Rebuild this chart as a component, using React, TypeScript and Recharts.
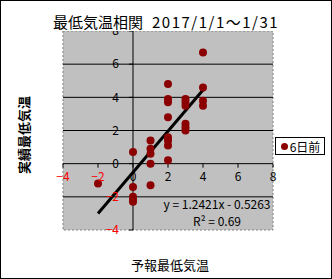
import { ScatterChart, Scatter, XAxis, YAxis, ReferenceLine, ReferenceArea, ReferenceDot } from "recharts";

// 6日前の予報最低気温 (x) と実績最低気温 (y)
const forecastTemps = [-2, 0, 0, 0, 0, 0, 1, 1, 1, 1, 1, 2, 2, 2, 2, 2, 2, 2, 2, 3, 3, 3, 3, 3, 3, 4, 4, 4, 4];
const actualTemps = [-1.2, 0.7, -1.4, -2.0, -2.2, -2.3, 1.4, 0.9, 0.6, 0.0, -1.3, 4.8, 3.9, 3.7, 2.8, 1.6, 1.4, 1.1, 0.2, 3.9, 3.7, 3.5, 2.4, 2.2, 2.0, 6.7, 4.6, 3.8, 3.5];

const xTicks = [-4, -2, 0, 2, 4, 6, 8];
const yTicks = [-4, -2, 0, 2, 4, 6, 8];
const gridLines = [-2, 2, 4, 6];

const slope = 1.2421;
const intercept = -0.5263;
const trendRange = [-2, 4];

const points = forecastTemps.map((x, i) => ({ x, y: actualTemps[i] }));

const FONT = "'Noto Sans CJK JP', 'Noto Sans', sans-serif";
const DOT = "#8b0000";

const fmt = (v: number) => (v < 0 ? `\u2212${-v}` : `${v}`);

export default function App() {
  return (
    <div style={{ position: "relative", width: 332, height: 279, background: "#fff", fontFamily: FONT }}>
      <style>{`body{margin:0}`}</style>
      <ScatterChart width={332} height={279} margin={{ top: 31, right: 59, bottom: 49, left: 63 }}>
        <XAxis type="number" dataKey="x" domain={[-4, 8]} ticks={xTicks} hide />
        <YAxis type="number" dataKey="y" domain={[-4, 8]} ticks={yTicks} hide />
        <ReferenceArea
          x1={-4}
          x2={8}
          y1={-4}
          y2={8}
          fill="#c0c0c0"
          fillOpacity={1}
          stroke="#808080"
          strokeDasharray="2 2"
        />
        {gridLines.map((v) => (
          <ReferenceLine key={`g${v}`} y={v} stroke="#000" strokeWidth={1} />
        ))}
        <ReferenceLine y={0} stroke="#000" strokeWidth={1} />
        <ReferenceLine x={0} stroke="#000" strokeWidth={1} />
        {xTicks.map((t) => (
          <ReferenceDot
            key={`xt${t}`}
            x={t}
            y={0}
            r={0}
            shape={(p: any) => <line x1={p.cx} x2={p.cx} y1={p.cy} y2={p.cy + 4} stroke="#000" />}
            label={{
              value: fmt(t),
              position: "bottom",
              offset: 9,
              fill: t < 0 ? "#ff0000" : "#000",
              fontSize: 12,
              fontFamily: FONT,
            }}
          />
        ))}
        {yTicks.map((t) => (
          <ReferenceDot
            key={`yt${t}`}
            x={0}
            y={t}
            r={0}
            shape={(p: any) => <line x1={p.cx - 4} x2={p.cx} y1={p.cy} y2={p.cy} stroke="#000" />}
            label={{
              value: fmt(t),
              position: "left",
              offset: 14,
              fill: t < 0 ? "#ff0000" : "#000",
              fontSize: 12,
              fontFamily: FONT,
            }}
          />
        ))}
        <Scatter
          data={points}
          isAnimationActive={false}
          shape={(p: any) => <circle cx={p.cx} cy={p.cy} r={4} fill={DOT} />}
        />
        <ReferenceLine
          segment={trendRange.map((x) => ({ x, y: slope * x + intercept }))}
          stroke="#000"
          strokeWidth={3}
        />
      </ScatterChart>

      <div
        style={{
          position: "absolute",
          left: 53,
          top: 12,
          height: 19,
          lineHeight: "19px",
          fontSize: 15,
          background: "#fff",
          whiteSpace: "nowrap",
        }}
      >
        最低気温相関<span style={{ marginLeft: 9, letterSpacing: 1.5 }}>2017/1/1～1/31</span>
      </div>

      <div style={{ position: "absolute", left: 150, top: 196, fontSize: 12, lineHeight: "16px", width: 134, textAlign: "center" }}>
        y = 1.2421x - 0.5263
      </div>
      <div style={{ position: "absolute", left: 150, top: 213, fontSize: 12, lineHeight: "16px", width: 134, textAlign: "center" }}>
        R² = 0.69
      </div>

      <div
        style={{
          position: "absolute",
          left: 24 - 50,
          top: 135 - 10,
          width: 100,
          height: 20,
          lineHeight: "20px",
          transform: "rotate(-90deg)",
          fontSize: 13,
          fontWeight: "bold",
          textAlign: "center",
          whiteSpace: "nowrap",
        }}
      >
        実績最低気温
      </div>
      <div style={{ position: "absolute", left: 130, top: 256, width: 80, fontSize: 13, textAlign: "center", lineHeight: "18px" }}>
        予報最低気温
      </div>

      <div
        style={{
          position: "absolute",
          left: 275,
          top: 137,
          width: 50,
          height: 18,
          border: "1px solid #000",
          boxSizing: "border-box",
          display: "flex",
          alignItems: "center",
          justifyContent: "center",
          fontSize: 12,
          background: "#fff",
        }}
      >
        <svg width={9} height={9} style={{ marginRight: 1 }}>
          <circle cx={4.5} cy={4.5} r={3.5} fill={DOT} />
        </svg>
        6日前
      </div>

      <div
        style={{
          position: "absolute",
          left: 0,
          top: 0,
          width: 332,
          height: 279,
          border: "1px solid #000",
          boxSizing: "border-box",
          pointerEvents: "none",
        }}
      />
    </div>
  );
}
